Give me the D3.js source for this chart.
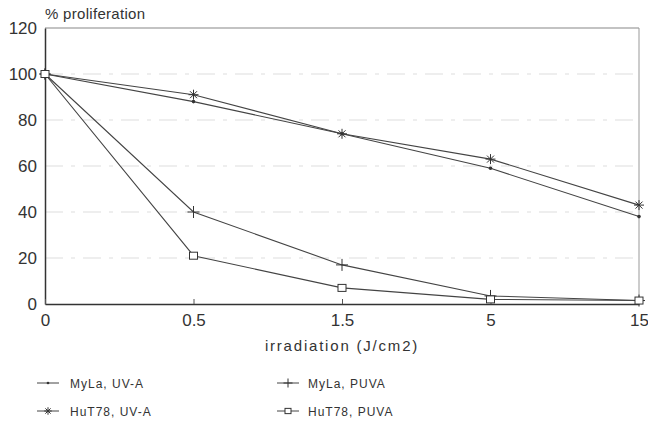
<!DOCTYPE html>
<html>
<head>
<meta charset="utf-8">
<script src="https://cdn.jsdelivr.net/npm/d3@7"></script>
<style>
  body { margin: 0; background: #fff; }
  text { font-family: "Liberation Sans", Arial, sans-serif; fill: #333; }
</style>
</head>
<body>
<div id="chart"></div>
<script>
var doses = ["0", "0.5", "1.5", "5", "15"];
var yTicks = [0, 20, 40, 60, 80, 100, 120];
var mylaUVA = [100, 88, 74, 59, 38];
var hutUVA = [100, 91, 74, 63, 43];
var mylaPUVA = [100, 40, 17, 3.5, 1.5];
var hutPUVA = [100, 21, 7, 2, 1.5];

var series = [
  { name: "MyLa, UV-A", values: mylaUVA, mark: "dot" },
  { name: "HuT78, UV-A", values: hutUVA, mark: "star" },
  { name: "MyLa, PUVA", values: mylaPUVA, mark: "plus" },
  { name: "HuT78, PUVA", values: hutPUVA, mark: "square" }
];

var w = 648, h = 424;
var margin = { top: 28, right: 9, bottom: 120, left: 45 };
var width = w - margin.left - margin.right;
var height = h - margin.top - margin.bottom;

var svg = d3.select("#chart").append("svg")
  .attr("width", w).attr("height", h);

var g = svg.append("g")
  .attr("transform", "translate(" + margin.left + "," + margin.top + ")");

var x = d3.scalePoint().domain(doses).range([0, width]);
var y = d3.scaleLinear().domain([0, 120]).range([height, 0]);

// gridlines, faint
g.selectAll(".grid").data(yTicks.filter(function (d) { return d > 0 && d < 120; }))
  .enter().append("line")
  .attr("x1", 0).attr("x2", width)
  .attr("y1", function (d) { return y(d); })
  .attr("y2", function (d) { return y(d); })
  .attr("stroke", "#ddd")
  .attr("stroke-width", 1)
  .style("stroke-dasharray", "18,8,4,8");

// frame
g.append("line").attr("x1", 0).attr("x2", width).attr("y1", 0).attr("y2", 0)
  .attr("stroke", "#888").attr("stroke-width", 1.2);
g.append("line").attr("x1", width).attr("x2", width).attr("y1", 0).attr("y2", height)
  .attr("stroke", "#999").attr("stroke-width", 1);

var yAxis = g.append("g")
  .call(d3.axisLeft(y).tickValues(yTicks).tickSize(0).tickPadding(8));
yAxis.select(".domain").attr("stroke", "#333").attr("stroke-width", 1.5);
yAxis.selectAll("text").style("font-size", "17px").attr("fill", "#333");

var xAxis = g.append("g")
  .attr("transform", "translate(0," + height + ")")
  .call(d3.axisBottom(x).tickSizeInner(-5).tickSizeOuter(0).tickPadding(10));
xAxis.select(".domain").attr("stroke", "#333").attr("stroke-width", 1.5);
xAxis.selectAll(".tick line").attr("stroke", "#555");
xAxis.selectAll("text").style("font-size", "17px").attr("fill", "#333");

svg.append("text")
  .attr("x", 45).attr("y", 19)
  .style("font-size", "15px")
  .style("letter-spacing", "0.3px")
  .text("% proliferation");

svg.append("text")
  .attr("x", margin.left + width / 2).attr("y", 351)
  .attr("text-anchor", "middle")
  .style("font-size", "15px")
  .style("letter-spacing", "1.8px")
  .text("irradiation (J/cm2)");

function drawMark(sel, type, s) {
  s = s || 1;
  if (type === "dot") {
    sel.append("circle").attr("r", 1.8 * s).attr("fill", "#333");
  } else if (type === "star") {
    var a = 5 * s, b = 3.5 * s;
    sel.append("path").attr("d", "M" + -a + ",0L" + a + ",0M0," + -a + "L0," + a +
        "M" + -b + "," + -b + "L" + b + "," + b + "M" + -b + "," + b + "L" + b + "," + -b)
      .attr("stroke", "#333").attr("stroke-width", 1);
  } else if (type === "plus") {
    var p = 6 * s;
    sel.append("path").attr("d", "M" + -p + ",0L" + p + ",0M0," + -p + "L0," + p)
      .attr("stroke", "#333").attr("stroke-width", 1);
  } else {
    sel.append("rect").attr("x", -4 * s).attr("y", -3.5 * s).attr("width", 8 * s).attr("height", 7 * s)
      .attr("fill", "#fff").attr("stroke", "#333").attr("stroke-width", 1);
  }
}

var line = d3.line()
  .x(function (d, i) { return x(doses[i]); })
  .y(function (d) { return y(d); });

series.forEach(function (s) {
  g.append("path").datum(s.values)
    .attr("d", line)
    .attr("fill", "none")
    .attr("stroke", "#444")
    .attr("stroke-width", 1.1);
  s.values.forEach(function (v, i) {
    var m = g.append("g").attr("transform", "translate(" + x(doses[i]) + "," + y(v) + ")");
    drawMark(m, s.mark);
  });
});

// legend
var legendPos = [[37, 383], [37, 411], [277, 383], [277, 411]];
series.forEach(function (s, i) {
  var lg = svg.append("g").attr("transform", "translate(" + legendPos[i][0] + "," + legendPos[i][1] + ")");
  lg.append("line").attr("x1", 0).attr("x2", 22).attr("y1", 0).attr("y2", 0)
    .attr("stroke", "#444").attr("stroke-width", 1);
  drawMark(lg.append("g").attr("transform", "translate(11,0)"), s.mark, 0.75);
  lg.append("text").attr("x", i < 2 ? 33 : 31).attr("y", 4.5)
    .style("font-size", "12px")
    .style("letter-spacing", "1px")
    .text(s.name);
});
</script>
</body>
</html>
